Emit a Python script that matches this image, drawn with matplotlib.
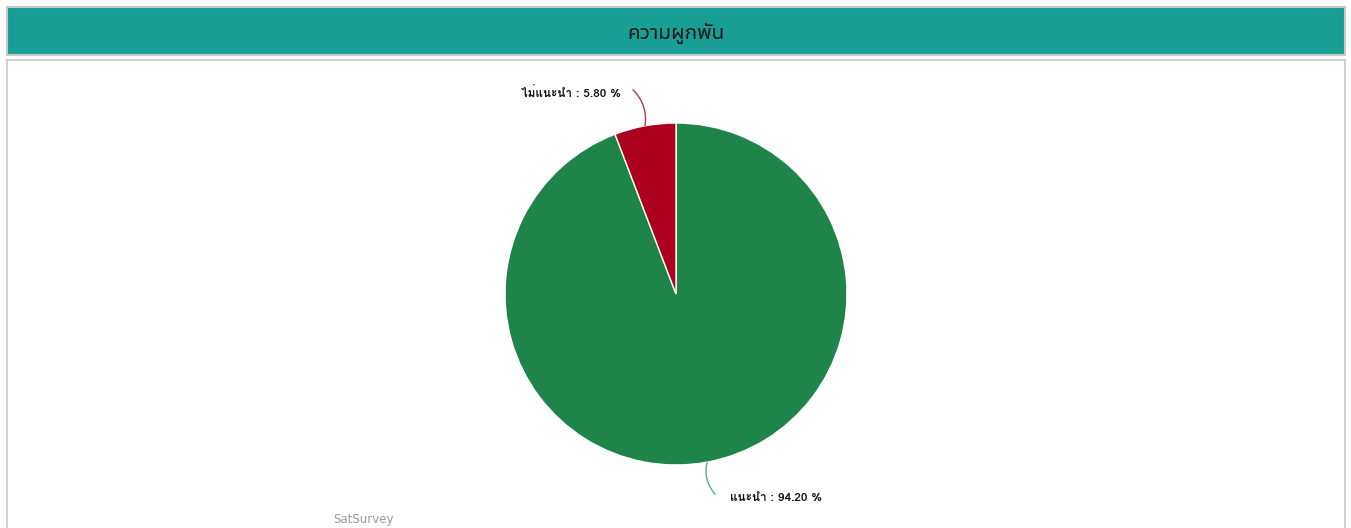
import numpy as np
import matplotlib
matplotlib.use("Agg")
import matplotlib.pyplot as plt
from matplotlib.patches import Rectangle

# data
title = "ความผูกพัน"
labels = ["แนะนำ", "ไม่แนะนำ"]
values = [94.20, 5.80]
colors = ["#1F844A", "#AD0021"]
line_colors = ["#5FAF80", "#C0304A"]

W, H = 1351, 528
fig = plt.figure(figsize=(W / 100, H / 100), dpi=100)
ax = fig.add_axes([0, 0, 1, 1])

# header bar
ax.add_patch(Rectangle((7, H - 55), 1338, 48, facecolor="#199E96",
                       edgecolor="#C8C8C8", linewidth=1.5))
ax.text(676, H - 33, title, ha="center", va="center", fontsize=15,
        color="#1A1A1A", family=["Noto Sans Thai UI", "DejaVu Sans"])

# content panel
ax.add_patch(Rectangle((7, -10), 1338, H - 60 + 10, facecolor="white",
                       edgecolor="#D2D2D2", linewidth=1.5))

# pie
cx, cy, r = 676, H - 294, 171
wedges, _ = ax.pie(values, colors=colors, startangle=90, counterclock=False,
                   center=(cx, cy), radius=r,
                   wedgeprops=dict(edgecolor="white", linewidth=1))

# labels with leader lines
offsets = [(8, -32, 15, -4), (-12, 36, -12, -3)]   # line end dx,dy ; text dx,dy
for w, lab, val, lc, (ldx, ldy, tdx, tdy) in zip(wedges, labels, values, line_colors, offsets):
    mid = np.deg2rad((w.theta1 + w.theta2) / 2)
    ex, ey = cx + r * np.cos(mid), cy + r * np.sin(mid)
    lx, ly = ex + ldx, ey + ldy
    ax.annotate("", xy=(ex, ey), xytext=(lx, ly),
                arrowprops=dict(arrowstyle="-", color=lc, lw=1,
                                connectionstyle="arc3,rad=-0.25",
                                shrinkA=0, shrinkB=0))
    ax.text(lx + tdx, ly + tdy, "%s : %.2f %%" % (lab, val),
            ha="left" if tdx > 0 else "right", va="center", fontsize=8.5,
            fontweight="bold", color="#111111",
            family=["Loma", "DejaVu Sans"])

ax.text(333, H - 520, "SatSurvey", ha="left", va="center", fontsize=8.5,
        color="#9A9A9A", family=["DejaVu Sans"])

ax.set_xlim(0, W)
ax.set_ylim(0, H)
ax.set_aspect("auto")
ax.axis("off")

fig.savefig("out.png", dpi=100, facecolor="white")
